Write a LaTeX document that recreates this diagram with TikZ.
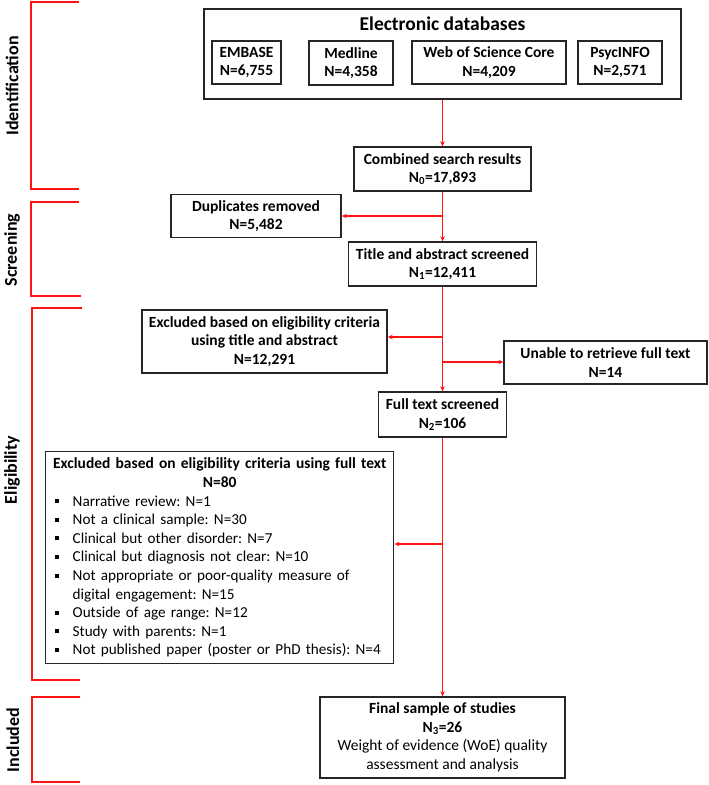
\documentclass[tikz,border=0pt]{standalone}
\usepackage{fontspec}
\setmainfont{Carlito}
\usetikzlibrary{arrows.meta}
\definecolor{bd}{HTML}{262626}
\definecolor{rd}{HTML}{FF1414}
\frenchspacing
\newcommand\bitem[1]{\par\hangindent=23pt\hangafter=1\noindent\hspace*{5pt}\rule[3pt]{4pt}{4pt}\hspace{14pt}#1}
\begin{document}
\begin{tikzpicture}[x=1pt,y=-1pt,
  font=\fontsize{15.5}{18.6}\selectfont,
  box/.style={draw=bd, line width=1.4pt, fill=white, align=center, inner sep=2pt, text=black},
  sbox/.style={box, line width=1.1pt},
  bf/.style={font=\fontsize{15.5}{18.6}\selectfont\bfseries},
  arr/.style={draw=rd, line width=1.4pt, -{Stealth[length=5pt,width=4.5pt]}},
  brk/.style={draw=rd, line width=1.6pt},
  side/.style={rotate=90, font=\fontsize{18}{20}\selectfont\bfseries}]
\useasboundingbox (0,0) rectangle (709,785);

% section brackets
\draw[brk] (79,2) -- (31,2) -- (31,189) -- (79,189);
\draw[brk] (79,202) -- (31,202) -- (31,296) -- (81,296);
\draw[brk] (82,308) -- (32,308) -- (32,680) -- (80,680);
\draw[brk] (80,697) -- (32,697) -- (32,782) -- (80,782);
\node[side] (lid) at (12,86) {Identification};
\node[side] (lsc) at (12,250) {Screening};
\node[side] (lel) at (12,470) {Eligibility};
\node[side] (lin) at (13,740) {Included};

% databases
\node[box, minimum width=477pt, minimum height=90pt] (db) at (442.5,54) {};
\node[font=\fontsize{19.5}{22}\selectfont\bfseries] (dbt) at (442.5,24) {Electronic databases};
\node[sbox, bf, minimum width=69pt, minimum height=43pt] (emb) at (246.5,62.5) {EMBASE\\N=6,755};
\node[sbox, bf, minimum width=84pt, minimum height=44pt] (med) at (351,63) {Medline\\N=4,358};
\node[sbox, bf, minimum width=154pt, minimum height=43pt] (wos) at (489,62.5) {Web of Science Core\\N=4,209};
\node[sbox, bf, minimum width=84pt, minimum height=43pt] (psy) at (620,62.5) {PsycINFO\\N=2,571};

% main column
\node[box, bf, minimum width=177pt, minimum height=44pt] (comb) at (442.5,169) {Combined search results\\N\textsubscript{0}=17,893};
\node[box, bf, minimum width=170pt, minimum height=43pt] (dup) at (256,216) {Duplicates removed\\N=5,482};
\node[box, bf, minimum width=188pt, minimum height=44pt] (tit) at (442.5,264) {Title and abstract screened\\N\textsubscript{1}=12,411};
\node[box, bf, minimum width=245pt, minimum height=63pt] (exta) at (264.5,341.5) {Excluded based on eligibility criteria\\using title and abstract\\N=12,291};
\node[box, bf, minimum width=203pt, minimum height=43pt] (unab) at (605.5,362.5) {Unable to retrieve full text\\N=14};
\node[box, bf, minimum width=128pt, minimum height=45pt] (full) at (442.5,414.5) {Full text screened\\N\textsubscript{2}=106};
\node[box, anchor=north west, text width=340pt, minimum height=212pt, inner sep=4pt, align=left] (exft) at (45,451) {%
{\centering\bfseries Excluded based on eligibility criteria using full text\\N=80\par}%
\raggedright\fontsize{15.2}{18.6}\selectfont
\bitem{Narrative review: N=1}
\bitem{Not a clinical sample: N=30}
\bitem{Clinical but other disorder: N=7}
\bitem{Clinical but diagnosis not clear: N=10}
\bitem{Not appropriate or poor-quality measure of\newline digital engagement: N=15}
\bitem{Outside of age range: N=12}
\bitem{Study with parents: N=1}
\bitem{Not published paper (poster or PhD thesis): N=4}\par};
\node[box, minimum width=245pt, minimum height=81pt] (fin) at (442.5,737.5) {\textbf{Final sample of studies}\\\textbf{N\textsubscript{3}=26}\\Weight of evidence (WoE) quality\\assessment and analysis};

% connectors
\coordinate (y1) at (0,216);
\coordinate (y2) at (0,337);
\coordinate (y3) at (0,362);
\coordinate (y4) at (0,544);
\coordinate (j1) at (comb.south |- y1);
\coordinate (j2) at (tit.south |- y2);
\coordinate (j3) at (tit.south |- y3);
\coordinate (j4) at (full.south |- y4);
\draw[arr] (db.south) -- (comb.north);
\draw[arr] (comb.south) -- (tit.north);
\draw[arr] (j1) -- (dup.east);
\draw[arr] (tit.south) -- (full.north);
\draw[arr] (j2) -- (j2 -| exta.east);
\draw[arr] (j3) -- (j3 -| unab.west);
\draw[arr] (full.south) -- (fin.north);
\draw[arr] (j4) -- (j4 -| exft.east);
\end{tikzpicture}
\end{document}
